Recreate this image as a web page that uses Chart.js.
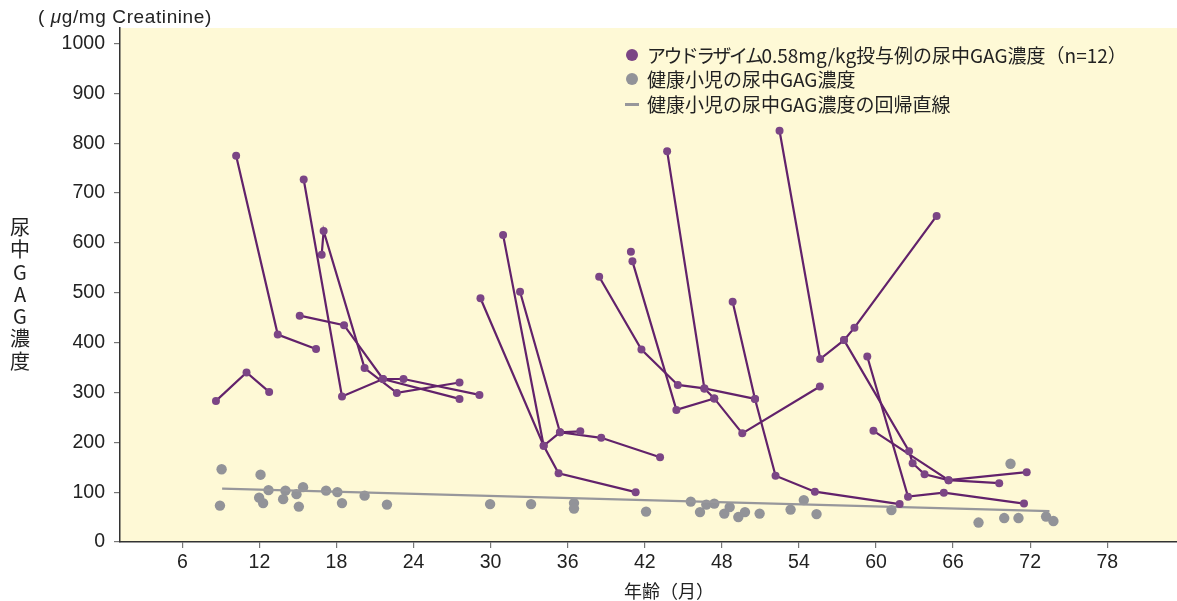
<!DOCTYPE html>
<html lang="ja">
<head>
<meta charset="utf-8">
<title>尿中GAG濃度</title>
<script src="https://cdn.jsdelivr.net/npm/chart.js@4.4.1/dist/chart.umd.min.js"></script>
<style>
  body { margin: 0; background: #ffffff; }
  #wrap { position: relative; width: 1177px; height: 601px; overflow: hidden; }
  #wrap canvas { position: absolute; left: 0; top: 0; }
  .unit { position: absolute; left: 38px; top: 6px; font: 19px "Liberation Sans", "Noto Sans CJK JP", sans-serif; letter-spacing: 0.6px; line-height: 22px; color: #222; white-space: nowrap; }
  .unit i { font-style: italic; }
  .ytitle { position: absolute; left: 9px; top: 216px; width: 22px; font: 20px "Noto Sans CJK JP", sans-serif; line-height: 22.3px; text-align: center; color: #222; }
  .xtitle { position: absolute; left: 624px; top: 580px; font: 18px "Noto Sans CJK JP", sans-serif; line-height: 20px; color: #222; white-space: nowrap; }
  .lg-row { position: absolute; left: 647px; height: 24px; line-height: 24px; font: 19px "Noto Sans CJK JP", sans-serif; color: #222; white-space: nowrap; }
  .lg-row .kana { letter-spacing: -2.6px; }
  .lg-dot { position: absolute; width: 12px; height: 12px; border-radius: 50%; }
  .lg-line { position: absolute; width: 14px; height: 2.5px; }
</style>
</head>
<body>
<div id="wrap">
  <canvas id="gag" width="1177" height="601"></canvas>
  <div class="unit">( <i>μ</i>g/mg Creatinine)</div>
  <div class="ytitle">尿<br>中<br>G<br>A<br>G<br>濃<br>度</div>
  <div class="xtitle">年齢（月）</div>

  <div class="lg-dot" style="left:626px;top:49px;background:#7b4585;"></div>
  <div class="lg-row" style="top:41px;"><span class="kana">アウドラザイム</span>0.58mg/kg投与例の尿中GAG濃度（n=12）</div>
  <div class="lg-dot" style="left:626px;top:73px;background:#929398;"></div>
  <div class="lg-row" style="top:65px;">健康小児の尿中GAG濃度</div>
  <div class="lg-line" style="left:625px;top:103px;background:#97979b;"></div>
  <div class="lg-row" style="top:90px;">健康小児の尿中GAG濃度の回帰直線</div>
</div>

<script>
// Axis ticks
const xTickValues = [6, 12, 18, 24, 30, 36, 42, 48, 54, 60, 66, 72, 78];
const yTickValues = [0, 100, 200, 300, 400, 500, 600, 700, 800, 900, 1000];

// Treated patients: [age in months, urinary GAG (µg/mg creatinine)] per visit
const patient01 = [[8.62, 283], [11.0, 340], [12.76, 301]];
const patient02 = [[10.19, 775], [13.43, 416], [16.41, 387]];
const patient03 = [[15.45, 727], [18.43, 292], [21.62, 327], [23.22, 327], [29.13, 295]];
const patient04 = [[15.14, 454], [18.59, 435], [21.62, 327], [27.58, 287]];
const patient05 = [[16.85, 576], [17.0, 624], [20.19, 349], [22.7, 299], [27.58, 320]];
const patient06 = [[29.21, 489], [34.13, 193], [35.4, 220], [36.98, 222]];
const patient07 = [[30.97, 616], [34.13, 193], [35.29, 138], [41.29, 100]];
const patient08 = [[32.29, 502], [35.4, 220], [38.61, 209], [43.19, 170]];
const patient09 = [[38.45, 532], [41.74, 386], [44.57, 315], [46.64, 308], [50.58, 287]];
const patient10 = [[41.04, 563], [44.46, 265], [47.41, 288], [49.59, 218], [55.63, 312]];
const patient10a = [[40.92, 582]];
const patient11 = [[43.74, 784], [46.64, 308], [47.41, 288]];
const patient12 = [[48.84, 482], [50.58, 287], [52.18, 133], [55.24, 101], [61.84, 76]];
const patient13 = [[52.49, 825], [55.65, 367], [57.51, 405], [58.32, 430], [64.72, 654]];
const patient14 = [[59.32, 372], [62.49, 91], [65.28, 99], [71.52, 77]];
const patient15 = [[57.51, 405], [62.57, 182], [62.85, 158], [63.78, 136], [65.65, 124], [69.59, 118]];
const patient16 = [[59.8, 223], [65.65, 124], [71.73, 140]];

// Healthy children
const healthyAge = [9.06, 8.93, 12.09, 12.71, 11.98, 12.29, 14.03, 13.85, 14.89, 15.4, 15.07, 17.19, 18.07, 18.43, 20.19, 21.93,
  29.96, 33.15, 36.49, 36.49, 42.1, 45.58, 46.3, 46.79, 47.41, 48.19, 48.61, 49.28, 49.8, 50.94, 53.35, 54.38, 55.37,
  61.2, 67.98, 69.98, 71.09, 73.24, 73.81, 70.47];
const healthyGag = [146, 73, 135, 104, 89, 78, 103, 86, 96, 110, 71, 103, 100, 78, 93, 75,
  76, 76, 78, 67, 61, 81, 60, 75, 77, 57, 70, 50, 60, 57, 65, 84, 56,
  64, 39, 48, 48, 51, 42, 157];

// Regression line for healthy children (end points)
const regressionLine = [[9.1, 107], [73.5, 62]];

const patients = [patient01, patient02, patient03, patient04, patient05, patient06, patient07, patient08,
  patient09, patient10, patient10a, patient11, patient12, patient13, patient14, patient15, patient16];

const toXY = arr => arr.map(([x, y]) => ({ x, y }));

const patientDatasets = patients.map(p => ({
  type: 'scatter',
  data: toXY(p),
  showLine: true,
  borderColor: '#62226b',
  borderWidth: 2.2,
  pointRadius: 4,
  pointHoverRadius: 4,
  pointBorderWidth: 0,
  pointBackgroundColor: '#7b4585',
  order: 0
}));

const creamBackground = {
  id: 'creamBackground',
  beforeDraw(chart) {
    const { ctx, chartArea: { left, top, right, bottom } } = chart;
    ctx.save();
    ctx.fillStyle = '#fef9d6';
    ctx.fillRect(left, top, right - left, bottom - top);
    ctx.restore();
  }
};

const tickFont = { family: '"Liberation Sans", Arial, sans-serif', size: 19.5 };

new Chart(document.getElementById('gag'), {
  type: 'scatter',
  data: {
    datasets: [
      ...patientDatasets,
      {
        type: 'scatter',
        data: toXY(regressionLine),
        showLine: true,
        borderColor: '#97979b',
        borderWidth: 2.2,
        pointRadius: 0,
        order: 1
      },
      {
        type: 'scatter',
        data: healthyAge.map((x, i) => ({ x, y: healthyGag[i] })),
        pointRadius: 5.2,
        pointHoverRadius: 5.2,
        pointBorderWidth: 0,
        pointBackgroundColor: '#929398',
        order: 2
      }
    ]
  },
  options: {
    responsive: false,
    devicePixelRatio: 1,
    animation: false,
    layout: { autoPadding: false, padding: { top: 28, left: 0, right: 0, bottom: 0 } },
    plugins: { legend: { display: false }, tooltip: { enabled: false } },
    scales: {
      x: {
        type: 'linear',
        min: 1.15,
        max: 83.43,
        afterBuildTicks: s => { s.ticks = xTickValues.map(v => ({ value: v })); },
        afterFit: s => { s.height = 59; },
        grid: { drawOnChartArea: false, tickLength: 6, color: '#777', lineWidth: 1.2 },
        border: { color: '#333', width: 1.5 },
        ticks: { font: tickFont, color: '#222', padding: 3, maxRotation: 0, autoSkip: false, callback: v => String(v) }
      },
      y: {
        type: 'linear',
        min: 0,
        max: 1031,
        afterBuildTicks: s => { s.ticks = yTickValues.map(v => ({ value: v })); },
        afterFit: s => { s.width = 120; },
        grid: { drawOnChartArea: false, tickLength: 6, color: '#777', lineWidth: 1.2 },
        border: { color: '#333', width: 1.5 },
        ticks: { font: tickFont, color: '#222', padding: 9, autoSkip: false, callback: v => String(v) }
      }
    }
  },
  plugins: [creamBackground]
});
</script>
</body>
</html>
